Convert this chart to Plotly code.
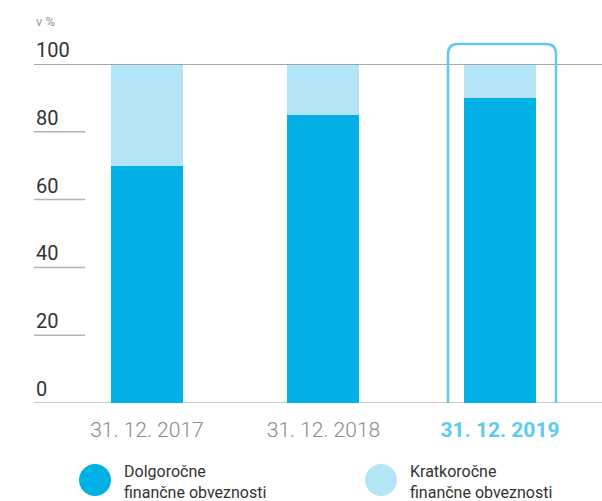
import plotly.graph_objects as go

categories = ["31. 12. 2017", "31. 12. 2018", "31. 12. 2019"]
long_term = [70, 85, 90]
short_term = [30, 15, 10]
y_ticks = [0, 20, 40, 60, 80, 100]
legend_labels = ["Dolgoročne<br>finančne obveznosti", "Kratkoročne<br>finančne obveznosti"]

DARK = "#00b0e6"
LIGHT = "#b3e5f6"
HILITE = "#5ccbef"
FONT = "Roboto"

W, H = 602, 501
L, R, T, B = 34, 0, 64, 98
PW, PH = W - L - R, H - T - B

def px(x):
    return (x - L) / PW

def py(y):
    return (H - B - y) / PH

fig = go.Figure()
fig.add_trace(go.Bar(x=list(range(len(categories))), y=long_term, marker_color=DARK,
                     width=0.408, showlegend=False, marker_line_width=0))
fig.add_trace(go.Bar(x=list(range(len(categories))), y=short_term, marker_color=LIGHT,
                     width=0.408, showlegend=False, marker_line_width=0))

ticktext = [c if i < len(categories) - 1 else
            f"<b><span style='color:{HILITE}'>{c}</span></b>" for i, c in enumerate(categories)]

shapes = []
annotations = []
for v in y_ticks:
    full = v in (0, 100)
    shapes.append(dict(type="line", xref="paper", yref="y", x0=0, x1=1 if full else px(85),
                       y0=v, y1=v,
                       line=dict(color="#c8c8c8" if v == 0 else ("#8c8c8c" if v == 100 else "#b4b4b4"),
                                 width=2 if v == 0 else 1.5),
                       layer="above" if v == 100 else "below"))
    annotations.append(dict(xref="paper", yref="y", x=0, y=v, text=str(v), showarrow=False,
                            xanchor="left", yanchor="bottom", yshift=0,
                            font=dict(family=FONT, size=20, color="#333333")))

# highlight box around last category
x0b, x1b, ytop, ybot, r = 448, 556, 44, 403, 10
rx, ry = r / PW, r / PH
path = (f"M {px(x0b)},{py(ybot)} L {px(x0b)},{py(ytop) - ry} "
        f"Q {px(x0b)},{py(ytop)} {px(x0b) + rx},{py(ytop)} "
        f"L {px(x1b) - rx},{py(ytop)} Q {px(x1b)},{py(ytop)} {px(x1b)},{py(ytop) - ry} "
        f"L {px(x1b)},{py(ybot)}")
shapes.append(dict(type="path", xref="paper", yref="paper", path=path,
                   line=dict(color=HILITE, width=2.5), layer="above"))

# legend
for i, (lab, col) in enumerate(zip(legend_labels, [DARK, LIGHT])):
    cx = [95, 381][i]
    cy = 480
    rr = 16
    shapes.append(dict(type="circle", xref="paper", yref="paper",
                       x0=px(cx - rr), x1=px(cx + rr), y0=py(cy + rr), y1=py(cy - rr),
                       fillcolor=col, line_width=0))
    annotations.append(dict(xref="paper", yref="paper", x=px(cx + 27), y=py(482), text=lab,
                            showarrow=False, xanchor="left", yanchor="middle", align="left",
                            font=dict(family=FONT, size=16, color="#333333")))

annotations.append(dict(xref="paper", yref="paper", x=0, y=py(21), text="v %", showarrow=False,
                        xanchor="left", yanchor="middle",
                        font=dict(family=FONT, size=13, color="#9a9a9a")))

fig.update_layout(
    width=W, height=H, margin=dict(l=L, r=R, t=T, b=B),
    paper_bgcolor="white", plot_bgcolor="white",
    barmode="stack", bargap=0,
    xaxis=dict(tickvals=list(range(len(categories))), ticktext=ticktext,
               range=[-0.64, 2.578], showgrid=False, zeroline=False, showline=False,
               ticks="", ticklabelstandoff=12,
               tickfont=dict(family=FONT, size=21, color="#8a8a8a", weight=300)),
    yaxis=dict(range=[0, 100], showgrid=False, zeroline=False, showline=False,
               showticklabels=False, ticks=""),
    shapes=shapes, annotations=annotations,
)

fig.write_html("out.html", config={"displayModeBar": False},
               post_script="document.body.style.margin='0';document.body.style.overflow='hidden';")
